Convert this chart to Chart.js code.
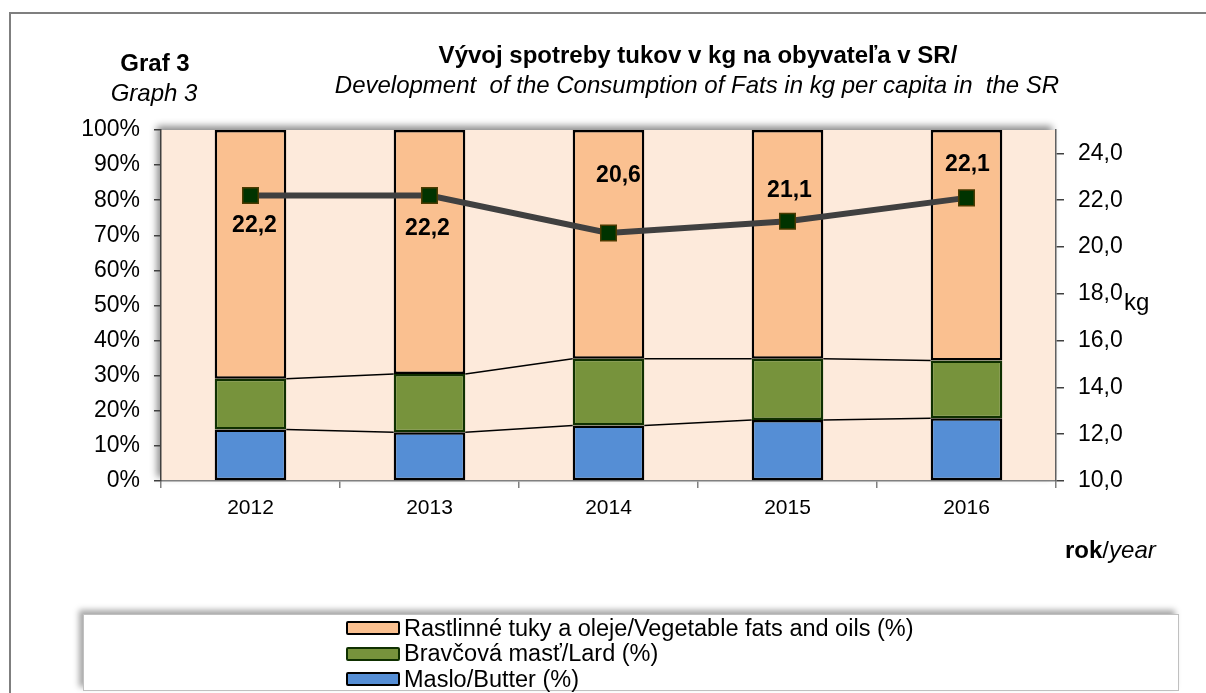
<!DOCTYPE html>
<html>
<head>
<meta charset="utf-8">
<script src="https://cdn.jsdelivr.net/npm/chart.js@4"></script>
<style>
  html, body { margin: 0; padding: 0; background: #fff; }
  body { width: 1206px; height: 693px; position: relative; overflow: hidden;
         font-family: "Liberation Sans", Arial, sans-serif; color: #000; }
  #frame { position: absolute; left: 9px; top: 12px; width: 1300px; height: 800px;
           border: 2px solid #7f7f7f; box-sizing: border-box; }
  #wrap { position: absolute; left: 0; top: 0; width: 1206px; height: 693px; }
  .txt { position: absolute; white-space: pre; line-height: 1; }
  #legend { position: absolute; left: 83px; top: 614px; width: 1096px; height: 77px;
            border: 1px solid #c0c0c0; background: #fff; box-sizing: border-box;
            box-shadow: -4px -4px 6px rgba(0,0,0,0.35); }
  .item { position: absolute; left: 262px; height: 24px; display: flex; align-items: center;
          font-size: 23.5px; white-space: nowrap; }
  .sw { width: 50px; height: 10px; border: 2px solid #000; border-radius: 2px; margin-right: 4px; }
</style>
</head>
<body>
<div id="frame"></div>
<div id="wrap"><canvas id="chart" width="1206" height="693"></canvas></div>

<div class="txt" style="left:155px; top:51px; transform:translateX(-50%); font-size:24px; font-weight:bold;">Graf 3</div>
<div class="txt" style="left:154px; top:81px; transform:translateX(-50%); font-size:24px; font-style:italic;">Graph 3</div>
<div class="txt" style="left:698px; top:43px; transform:translateX(-50%); font-size:24px; font-weight:bold;">Vývoj spotreby tukov v kg na obyvateľa v SR/</div>
<div class="txt" style="left:697px; top:73px; transform:translateX(-50%); font-size:24px; font-style:italic;">Development  of the Consumption of Fats in kg per capita in  the SR</div>
<div class="txt" style="left:1124px; top:290px; font-size:24px;">kg</div>
<div class="txt" style="left:1065px; top:538px; font-size:24px;"><b>rok</b>/<i>year</i></div>

<div id="legend"></div>

<script>
'use strict'

const years = ['2012', '2013', '2014', '2015', '2016'];
const butter = [14.7, 13.9, 15.8, 17.4, 17.9];
const lard = [14.4, 16.6, 19.0, 17.4, 16.4];
const vegetable = [70.9, 69.5, 65.2, 65.2, 65.7];
const totalKg = [22.2, 22.2, 20.6, 21.1, 22.1];
const kgTicks = [10, 12, 14, 16, 18, 20, 22, 24];

const seriesNames = ['Maslo/Butter (%)', 'Bravčová masť/Lard (%)', 'Rastlinné tuky a oleje/Vegetable fats and oils (%)'];

// label offset (dx, dy) from each point of the line
const labelOffsets = [[4, 30], [-2, 33], [10, -57], [2, -31], [1, -33]];

const plotBg = '#fdeadb';
const fills = ['#558ed5', '#77933c', '#fac090'];
const borders = ['#000000', '#0f3000', '#000000'];

const fontFamily = 'Liberation Sans, Arial, sans-serif';

// plot area background with a soft shadow on the top and left side
const plotAreaBg = {
    id: 'plotAreaBg',
    beforeDraw(chart) {
        const { ctx, chartArea: a } = chart;
        ctx.save();
        ctx.shadowColor = 'rgba(0,0,0,0.45)';
        ctx.shadowBlur = 7;
        ctx.shadowOffsetX = -4;
        ctx.shadowOffsetY = -4;
        ctx.fillStyle = plotBg;
        ctx.fillRect(a.left, a.top, a.right - a.left, a.bottom - a.top);
        ctx.restore();
    }
};

// Excel style series lines between the stacked bars
const seriesLines = {
    id: 'seriesLines',
    beforeDatasetsDraw(chart) {
        const ctx = chart.ctx;
        ctx.save();
        ctx.strokeStyle = '#000';
        ctx.lineWidth = 1.5;
        [0, 1].forEach(di => {
            const bars = chart.getDatasetMeta(di).data;
            for (let i = 0; i < bars.length - 1; i++) {
                const a = bars[i], b = bars[i + 1];
                ctx.beginPath();
                ctx.moveTo(a.x + a.width / 2, a.y);
                ctx.lineTo(b.x - b.width / 2, b.y);
                ctx.stroke();
            }
        });
        ctx.restore();
    }
};

// value labels of the kg line
const lineLabels = {
    id: 'lineLabels',
    afterDatasetsDraw(chart) {
        const ctx = chart.ctx;
        const pts = chart.getDatasetMeta(3).data;
        ctx.save();
        ctx.font = 'bold 23px "Liberation Sans", Arial, sans-serif';
        ctx.fillStyle = '#000';
        ctx.textAlign = 'center';
        ctx.textBaseline = 'middle';
        pts.forEach((p, i) => {
            const txt = totalKg[i].toFixed(1).replace('.', ',');
            ctx.fillText(txt, p.x + labelOffsets[i][0], p.y + labelOffsets[i][1]);
        });
        ctx.restore();
    }
};

const barSets = [butter, lard, vegetable].map((vals, i) => ({
    type: 'bar',
    label: seriesNames[i],
    data: vals,
    backgroundColor: fills[i],
    borderColor: borders[i],
    borderWidth: 2.5,
    borderSkipped: false,
    categoryPercentage: 1,
    barPercentage: 0.4,
    yAxisID: 'y',
    order: 1
}));

new Chart(document.getElementById('chart'), {
    data: {
        labels: years,
        datasets: [...barSets, {
            type: 'line',
            label: 'kg',
            data: totalKg,
            yAxisID: 'y1',
            borderColor: '#404040',
            borderWidth: 6,
            pointStyle: 'rect',
            pointRadius: 11,
            pointHoverRadius: 11,
            pointBackgroundColor: '#003300',
            pointBorderColor: '#4a3a00',
            pointBorderWidth: 1.5,
            order: 0
        }]
    },
    options: {
        responsive: false,
        animation: false,
        layout: { padding: { top: 130, left: 0, right: 0, bottom: 0 } },
        plugins: {
            legend: { display: false },
            tooltip: { enabled: false }
        },
        scales: {
            x: {
                stacked: true,
                grid: { drawOnChartArea: false, color: '#808080', tickLength: 7, lineWidth: 1.5 },
                border: { color: '#808080', width: 1.5 },
                ticks: { color: '#000', font: { family: fontFamily, size: 21 }, padding: 8 },
                afterFit: s => { s.height = 212; }
            },
            y: {
                stacked: true,
                position: 'left',
                min: 0,
                max: 100,
                ticks: { stepSize: 10, color: '#000', font: { family: fontFamily, size: 23 }, padding: 14,
                         callback: v => v + '%' },
                grid: { drawOnChartArea: false, color: '#404040', tickLength: 7, lineWidth: 1.5 },
                border: { color: '#404040', width: 1.5 },
                afterFit: s => { s.width = 161; }
            },
            y1: {
                position: 'right',
                min: 10,
                max: 25,
                ticks: { color: '#000', font: { family: fontFamily, size: 23 }, padding: 14,
                         callback: v => v.toFixed(1).replace('.', ',') },
                grid: { drawOnChartArea: false, color: '#404040', tickLength: 8, lineWidth: 1.5 },
                border: { color: '#606060', width: 1.5 },
                afterBuildTicks: s => { s.ticks = kgTicks.map(v => ({ value: v })); },
                afterFit: s => { s.width = 150; }
            }
        }
    },
    plugins: [plotAreaBg, seriesLines, lineLabels]
});

// legend, top to bottom in reverse stacking order
const legend = document.getElementById('legend');
[2, 1, 0].forEach((si, row) => {
    const item = document.createElement('div');
    item.className = 'item';
    item.style.top = (1 + row * 25.5) + 'px';
    const sw = document.createElement('span');
    sw.className = 'sw';
    sw.style.background = fills[si];
    sw.style.borderColor = borders[si];
    const label = document.createElement('span');
    label.textContent = seriesNames[si];
    item.appendChild(sw);
    item.appendChild(label);
    legend.appendChild(item);
});
</script>
</body>
</html>
